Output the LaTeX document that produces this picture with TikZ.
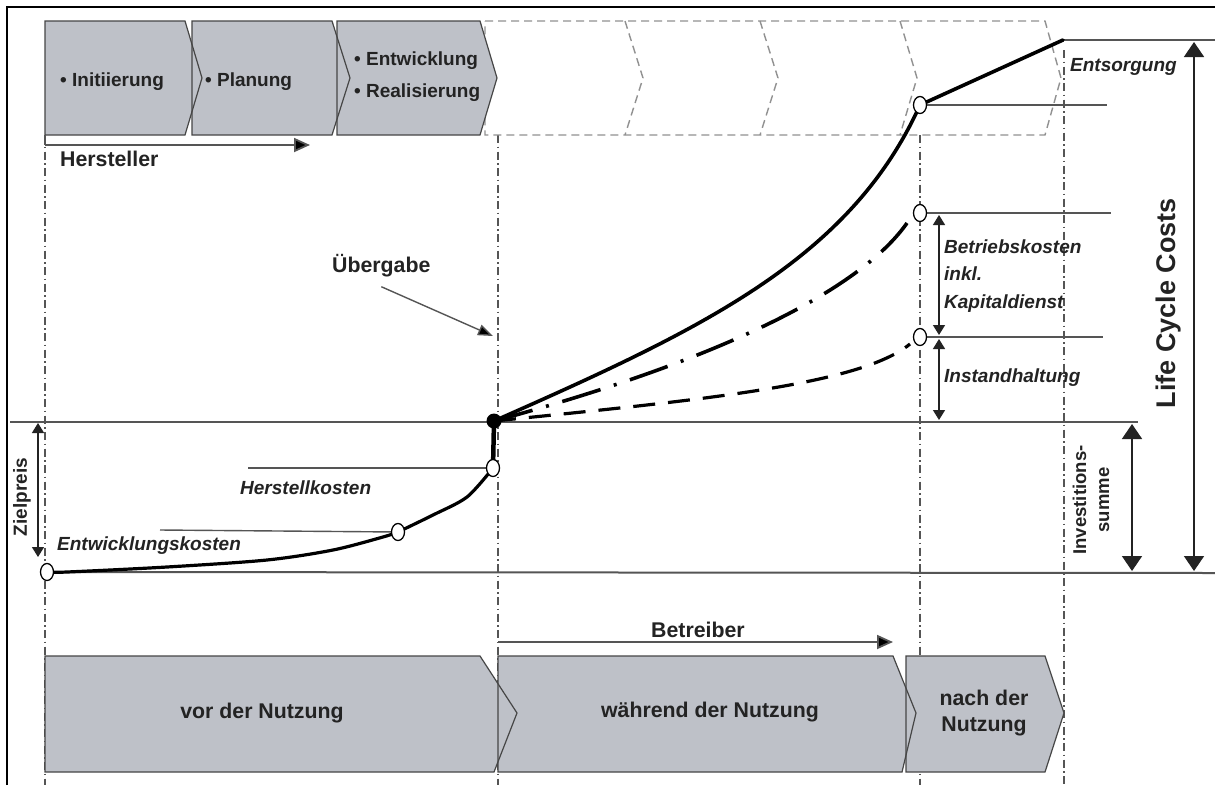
\documentclass[tikz,border=0pt]{standalone}
\usepackage{fontspec}
\setmainfont{Liberation Sans}
\usetikzlibrary{arrows.meta,shapes.geometric}

\definecolor{chev}{RGB}{190,193,200}
\definecolor{edge}{RGB}{70,70,70}
\definecolor{ink}{RGB}{35,35,35}
\definecolor{guide}{RGB}{85,85,85}
\definecolor{ghost}{RGB}{145,145,145}

\tikzset{
  phasefill/.style={fill=chev},
  phaseedge/.style={draw=edge, line width=1.2pt, line join=miter},
  ghostphase/.style={draw=ghost, line width=1.4pt, dash pattern=on 8pt off 5pt},
  divider/.style={draw=guide, line width=1.4pt, dash pattern=on 8pt off 3.5pt on 1.5pt off 3.5pt},
  thinline/.style={draw=guide, line width=1.4pt},
  levelline/.style={draw=guide, line width=2pt},
  cost/.style={line width=3.6pt, line cap=round, line join=round},
  ring/.style={ellipse, draw=black, fill=white, line width=1.3pt, minimum width=13pt, minimum height=17pt, inner sep=0pt},
  handover/.style={circle, fill=black, minimum size=15pt, inner sep=0pt},
  lbl/.style={font=\fontsize{19}{23}\selectfont\bfseries, text=ink, inner sep=0pt},
  ilbl/.style={font=\fontsize{19}{27.5}\selectfont\bfseries\itshape, text=ink, inner sep=0pt, align=left},
  biglbl/.style={font=\fontsize{21.3}{26}\selectfont\bfseries, text=ink, inner sep=0pt, align=center},
  dimsmall/.style={draw=ink, line width=1.4pt, {Triangle[length=10pt,width=12pt]}-{Triangle[length=10pt,width=12pt]}},
  dimbig/.style={draw=ink, line width=1.6pt, {Triangle[length=15pt,width=20pt]}-{Triangle[length=15pt,width=20pt]}},
  flow/.style={draw=guide, line width=1.8pt, -{Triangle[length=16pt,width=14pt,fill=black]}},
}

\begin{document}
\begin{tikzpicture}[x=1pt,y=-1pt]
\useasboundingbox (0,0) rectangle (1215,785);
\fill[white] (0,0) rectangle (1215,785);

% frame
\draw[line width=2.5pt] (7,785) -- (7,7) -- (1215,7);

% dash-dotted phase boundaries
\foreach \x/\y in {45/135, 498/135, 920/135, 1064/50}
  \draw[divider] (\x,\y) -- (\x,785);

% later phases of the life cycle, only outlined
\draw[ghostphase] (485,21) -- (1045,21) -- (1061,78) -- (1045,135) -- (485,135) -- cycle;
\foreach \a/\b in {625/643, 760/778, 900/917}
  \draw[ghostphase] (\a,21) -- (\b,78) -- (\a,135);

% manufacturer phases
\foreach \l/\r/\t in {45/185/202, 192/332/350, 337/480/497}
  \fill[phasefill] (\l,21) -- (\r,21) -- (\t,78) -- (\r,135) -- (\l,135) -- cycle;
\foreach \l/\r/\t in {45/185/202, 192/332/350, 337/480/497}
  \draw[phaseedge] (\l,21) -- (\r,21) -- (\t,78) -- (\r,135) -- (\l,135) -- cycle;
\node[lbl, anchor=base west] (pInit) at (60,86) {• Initiierung};
\node[lbl, anchor=base west] (pPlan) at (205,86) {• Planung};
\node[lbl, anchor=base west] (pDev) at (354,65) {• Entwicklung};
\node[lbl, anchor=base west] (pReal) at (354,97) {• Realisierung};

% usage phases
\foreach \l/\r/\t/\b in {45/480/517/494, 498/893/916/902, 906/1045/1064/1045}
  \fill[phasefill] (\l,656) -- (\r,656) -- (\t,713) -- (\b,772) -- (\l,772) -- cycle;
\foreach \l/\r/\t/\b in {45/480/517/494, 498/893/916/902, 906/1045/1064/1045}
  \draw[phaseedge] (\l,656) -- (\r,656) -- (\t,713) -- (\b,772) -- (\l,772) -- cycle;
\node[biglbl] (uBefore) at (262,713) {vor der Nutzung};
\node[biglbl] (uDuring) at (710,712) {während der Nutzung};
\node[biglbl] (uAfter) at (984,713) {nach der\\Nutzung};

% actors
\coordinate (hsA) at (45,145);
\coordinate (hsB) at (310,145);
\draw[guide, line width=1.8pt] (45,135) -- (hsA);
\draw[flow] (hsA) -- (hsB);
\node[biglbl, anchor=base west] (hst) at (60,166) {Hersteller};
\coordinate (btA) at (498,642);
\coordinate (btB) at (893,642);
\draw[flow] (btA) -- (btB);
\node[biglbl, anchor=base] (btr) at (698,637) {Betreiber};

% cost levels
\coordinate (p0) at (47,572);
\coordinate (p1) at (398,532);
\coordinate (p2) at (493,468);
\coordinate (pd) at (494,421);
\coordinate (p3) at (920,337);
\coordinate (p4) at (920,213);
\coordinate (p5) at (920,105);
\coordinate (pe) at (1063,40);

\draw[levelline] (10,422) -- (1138,422);
\draw[levelline] (p0) -- (1215,573);
\draw[thinline] (160,530) -- (p1);
\draw[thinline] (248,468) -- (p2);
\draw[thinline] (p5) -- (1107,105);
\draw[thinline] (p4) -- (1111,213);
\draw[thinline] (p3) -- (1103,337);
\draw[thinline] (pe) -- (1215,40);

% cumulative cost curves
\draw[cost, line width=3.2pt] plot[smooth] coordinates {(p0) (67,572) (167,567) (267,560) (333,550) (383,537) (p1)};
\draw[cost, line width=3.2pt] plot[smooth] coordinates {(p1) (433,515) (467,497) (p2)};
\draw[cost, line width=4.5pt] (p2) -- (pd);
\draw[cost] (pd) .. controls (700,330) and (850,260) .. (p5) -- (pe);
\draw[cost, line cap=butt, dash pattern=on 40pt off 14pt on 3pt off 14pt]
  (pd) .. controls (720,360) and (860,290) .. (907,223);
\draw[cost, line width=3.2pt, line cap=butt, dash pattern=on 22pt off 13pt]
  (pd) .. controls (700,400) and (860,385) .. (910,344);

% markers
\node[ring] (c0) at (p0) {};
\node[ring] (c1) at (p1) {};
\node[ring] (c2) at (p2) {};
\node[ring] (c3) at (p3) {};
\node[ring] (c4) at (p4) {};
\node[ring] (c5) at (p5) {};
\node[handover] (dot) at (pd) {};

% dimension arrows
\coordinate (zpT) at (38,423);
\coordinate (zpB) at (38,557);
\draw[dimsmall] (zpT) -- (zpB);
\node[lbl, rotate=90] (zp) at (22,497) {Zielpreis};
\coordinate (bkT) at (939,215);
\coordinate (bkB) at (939,335);
\coordinate (ihB) at (939,420);
\draw[dimsmall] (bkT) -- (bkB);
\draw[dimsmall] ([yshift=-4pt]bkB) -- (ihB);
\coordinate (ivT) at (1132,424);
\coordinate (ivB) at (1132,571);
\draw[dimbig] (ivT) -- (ivB);
\coordinate (lcT) at (1194,42);
\coordinate (lcB) at (1194,571);
\draw[dimbig] (lcT) -- (lcB);

% labels
\node[ilbl, anchor=base west] (hk) at (240,494) {Herstellkosten};
\node[ilbl, anchor=base west] (ek) at (57,550) {Entwicklungskosten};
\node[ilbl, anchor=west] (bk) at (944,276) {Betriebskosten\\inkl.\\Kapitaldienst};
\node[ilbl, anchor=west] (ih) at (944,378) {Instandhaltung};
\node[ilbl, anchor=base west] (es) at (1070,71) {Entsorgung};
\node[font=\fontsize{18.5}{23}\selectfont\bfseries, text=ink, inner sep=0pt, align=center, rotate=90] (inv) at (1091,500) {Investitions-\\summe};
\node[font=\fontsize{27}{32}\selectfont\bfseries, text=ink, inner sep=0pt, rotate=90] (lcc) at (1169,303) {Life Cycle Costs};

% hand-over marker
\node[biglbl, anchor=base west] (ueb) at (332,272) {Übergabe};
\draw[draw=guide, line width=1.4pt, -{Triangle[length=15pt,width=11pt,fill=black]}] ([yshift=-10pt]ueb.south) -- (493,336);
\end{tikzpicture}
\end{document}
